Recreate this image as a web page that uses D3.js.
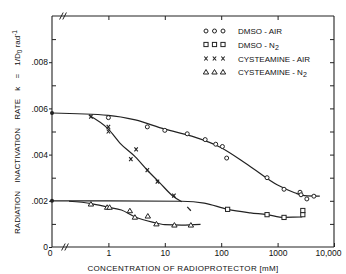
<!DOCTYPE html>
<html><head><meta charset="utf-8">
<script src="https://cdn.jsdelivr.net/npm/d3@7"></script>
<style>
html,body{margin:0;padding:0;background:#fff;}
svg{display:block;}
text{font-family:"Liberation Sans",Arial,sans-serif;fill:#111;}
</style></head>
<body><svg id="c" width="346" height="274"></svg>
<script>
// ---- data (concentration in mM; 0 = on the y axis) ----
const dmsoAirConc = [1, 4.9, 10, 25, 52, 80, 105, 125, 650, 1300, 2500, 2600, 3300, 4400];
const dmsoAirRate = [0.0056, 0.0052, 0.00505, 0.0049, 0.00465, 0.00445, 0.00435, 0.00385, 0.0030, 0.0025, 0.00237, 0.00226, 0.00208, 0.0022];
const dmsoAirFitConc = [0, 1, 3, 10, 30, 100, 300, 1000, 2000, 3000, 5600];
const dmsoAirFitRate = [0.0058, 0.0057, 0.0055, 0.0051, 0.0048, 0.0043, 0.00355, 0.00268, 0.00235, 0.00222, 0.0022];

const dmsoN2Conc = [130, 650, 1300, 2800, 2800];
const dmsoN2Rate = [0.00163, 0.0014, 0.00128, 0.0014, 0.00158];
const dmsoN2FitConc = [0, 1, 20, 50, 130, 330, 650, 1300, 2700, 2800];
const dmsoN2FitRate = [0.002, 0.002, 0.00198, 0.0019, 0.00163, 0.00148, 0.0014, 0.00128, 0.0013, 0.00152];

const cystAirConc = [0.49, 1, 1, 2.5, 3.1, 4.9, 7.4, 14.5];
const cystAirRate = [0.00564, 0.0052, 0.005, 0.0038, 0.00423, 0.00333, 0.00283, 0.00222];
const cystAirFitConc = [0.45, 1, 1.6, 3, 5, 8, 14, 20];
const cystAirFitRate = [0.0057, 0.0051, 0.0045, 0.0039, 0.0033, 0.0028, 0.0022, 0.00196];
const cystAirDashConc = [25, 29];
const cystAirDashRate = [0.00174, 0.00157];

const cystN2Conc = [0.49, 0.95, 1.05, 2.4, 2.95, 5.0, 7.1, 14.8, 29];
const cystN2Rate = [0.00186, 0.00172, 0.00172, 0.00157, 0.00129, 0.00134, 0.001, 0.00095, 0.00095];
const cystN2FitConc = [0.2, 0.5, 1, 1.7, 3, 6, 10, 20, 43];
const cystN2FitRate = [0.00198, 0.00188, 0.00172, 0.0016, 0.0013, 0.00108, 0.00097, 0.00095, 0.00098];

const axisStartConc = [0, 0];
const axisStartRate = [0.0058, 0.002];

const xTickValues = [1, 10, 100, 1000, 10000];
const xTickLabels = ["1", "10", "100", "1000", "10,000"];
const yMajorTicks = [0, 0.002, 0.004, 0.006, 0.008];
const yMajorLabels = ["0", ".002", ".004", ".006", ".008"];
const yMinorTicks = [0.001, 0.003, 0.005, 0.007, 0.009];
const yAllTicks = [0.001, 0.002, 0.003, 0.004, 0.005, 0.006, 0.007, 0.008, 0.009];

const legendNames = ["DMSO - AIR", "DMSO - N", "CYSTEAMINE - AIR", "CYSTEAMINE - N"];
const legendSubs = ["", "2", "", "2"];
const legendMarkers = ["circle", "square", "cross", "triangle"];

// ---- layout ----
const L = 52, R = 334, T = 16, B = 247;
const svg = d3.select("#c");
const x = d3.scaleLog().domain([0.1, 10000]).range([L, R]);
const y = d3.scaleLinear().domain([0, 0.010]).range([B, T]);
const xp = c => c === 0 ? x(0.1) : x(c);
const ink = "#222";

// frame
const frame = svg.append("g").attr("stroke", ink).attr("stroke-width", 1.1).attr("fill", "none");
frame.append("line").attr("x1", L).attr("x2", R).attr("y1", T).attr("y2", T);
frame.append("line").attr("x1", R).attr("x2", R).attr("y1", T).attr("y2", B);
frame.append("line").attr("x1", L).attr("x2", R).attr("y1", B).attr("y2", B);
frame.append("line").attr("x1", L).attr("x2", L).attr("y1", T).attr("y2", B);

function styleAxis(g) {
  g.select(".domain").remove();
  g.selectAll(".tick line").attr("stroke", ink).attr("stroke-width", 1);
  g.selectAll("text").attr("font-size", "8.5px").attr("fill", "#111").attr("font-family", '"Liberation Sans",Arial,sans-serif');
}

// bottom axis
const bx = svg.append("g").attr("transform", `translate(0,${B})`)
  .call(d3.axisBottom(x).tickValues(xTickValues).tickSize(-4).tickPadding(3)
    .tickFormat((d, i) => xTickLabels[i]))
  .call(styleAxis);
bx.selectAll(".tick text").filter(d => d === 10000).attr("dx", "-6");
// top axis
svg.append("g").attr("transform", `translate(0,${T})`)
  .call(d3.axisTop(x).tickValues(xTickValues.slice(0, 4)).tickSize(-4).tickFormat(""))
  .call(styleAxis);
// left axis major (outward) with labels
svg.append("g").attr("transform", `translate(${L},0)`)
  .call(d3.axisLeft(y).tickValues(yMajorTicks).tickSize(3).tickPadding(1)
    .tickFormat((d, i) => yMajorLabels[i]))
  .call(styleAxis);
// left axis minor (inward)
svg.append("g").attr("transform", `translate(${L},0)`)
  .call(d3.axisLeft(y).tickValues(yMinorTicks).tickSize(-4).tickFormat(""))
  .call(styleAxis);
// right axis (inward)
svg.append("g").attr("transform", `translate(${R},0)`)
  .call(d3.axisRight(y).tickValues(yAllTicks).tickSize(-4).tickFormat(""))
  .call(styleAxis);

// x "0" label
svg.append("text").attr("x", xp(0) - 2).attr("y", B + 3).attr("dy", "0.71em")
  .attr("text-anchor", "middle").attr("font-size", "8.5px").text("0");

// axis breaks
function brk(cx, cy) {
  const g = svg.append("g").attr("stroke", ink).attr("stroke-width", 1);
  [-1.6, 1.6].forEach(o => {
    g.append("line").attr("x1", cx + o - 1.8).attr("y1", cy + 3.5).attr("x2", cx + o + 1.8).attr("y2", cy - 3.5);
  });
}
brk(xp(0) + 13, B);
brk(xp(0) + 11, T);

// lines
const lineGen = d3.line().x(d => xp(d[0])).y(d => y(d[1])).curve(d3.curveMonotoneX);
const zipp = (a, b) => a.map((v, i) => [v, b[i]]);
const lines = svg.append("g").attr("fill", "none").attr("stroke", ink).attr("stroke-width", 1.2);
lines.append("path").attr("d", lineGen(zipp(dmsoAirFitConc, dmsoAirFitRate)));
lines.append("path").attr("d", lineGen(zipp(dmsoN2FitConc, dmsoN2FitRate)));
lines.append("path").attr("d", lineGen(zipp(cystAirFitConc, cystAirFitRate)));
lines.append("path").attr("d", d3.line().x(d => xp(d[0])).y(d => y(d[1]))(zipp(cystAirDashConc, cystAirDashRate)));
lines.append("path").attr("d", lineGen(zipp(cystN2FitConc, cystN2FitRate)));

// markers
function marker(g, type, cx, cy) {
  if (type === "circle") {
    g.append("circle").attr("cx", cx).attr("cy", cy).attr("r", 2)
      .attr("fill", "#fff").attr("stroke", ink).attr("stroke-width", 1);
  } else if (type === "square") {
    g.append("rect").attr("x", cx - 2.1).attr("y", cy - 2.1).attr("width", 4.2).attr("height", 4.2)
      .attr("fill", "#fff").attr("stroke", ink).attr("stroke-width", 1);
  } else if (type === "triangle") {
    g.append("path").attr("d", `M${cx},${cy - 2.5}L${cx + 2.7},${cy + 2}L${cx - 2.7},${cy + 2}Z`)
      .attr("fill", "#fff").attr("stroke", ink).attr("stroke-width", 1);
  } else {
    g.append("path").attr("d", `M${cx - 1.7},${cy - 2}L${cx + 1.7},${cy + 2}M${cx + 1.7},${cy - 2}L${cx - 1.7},${cy + 2}`)
      .attr("fill", "none").attr("stroke", ink).attr("stroke-width", 1.1);
  }
}
const mk = svg.append("g");
dmsoAirConc.forEach((c, i) => marker(mk, "circle", xp(c), y(dmsoAirRate[i])));
dmsoN2Conc.forEach((c, i) => marker(mk, "square", xp(c), y(dmsoN2Rate[i])));
cystAirConc.forEach((c, i) => marker(mk, "cross", xp(c), y(cystAirRate[i])));
cystN2Conc.forEach((c, i) => marker(mk, "triangle", xp(c), y(cystN2Rate[i])));
axisStartConc.forEach((c, i) => mk.append("circle").attr("cx", xp(c)).attr("cy", y(axisStartRate[i])).attr("r", 2).attr("fill", ink));

// legend
const lg = svg.append("g");
const legRowY = [31, 44.5, 58.5, 72];
legendNames.forEach((n, i) => {
  [206, 214.5, 223].forEach(mx => marker(lg, legendMarkers[i], mx, legRowY[i]));
  const t = lg.append("text").attr("x", 238).attr("y", legRowY[i] + 3).attr("font-size", "8px").text(n);
  if (legendSubs[i]) t.append("tspan").attr("dy", 2).attr("font-size", "7px").text(legendSubs[i]);
});

// axis titles
svg.append("text").attr("x", 183).attr("y", 271).attr("text-anchor", "middle")
  .attr("font-size", "8px").attr("letter-spacing", "0.3px").text("CONCENTRATION OF RADIOPROTECTOR [mM]");

const yt = svg.append("text").attr("transform", "translate(20,132) rotate(-90)")
  .attr("text-anchor", "middle").attr("font-size", "8px");
yt.append("tspan").attr("word-spacing", "6px").text("RADIATION INACTIVATION RATE  k = 1/D");
yt.append("tspan").attr("dy", 2).attr("font-size", "6.5px").text("0");
yt.append("tspan").attr("dy", -2).text(" rad");
yt.append("tspan").attr("dy", -3).attr("font-size", "6.5px").text("-1");
</script></body></html>
